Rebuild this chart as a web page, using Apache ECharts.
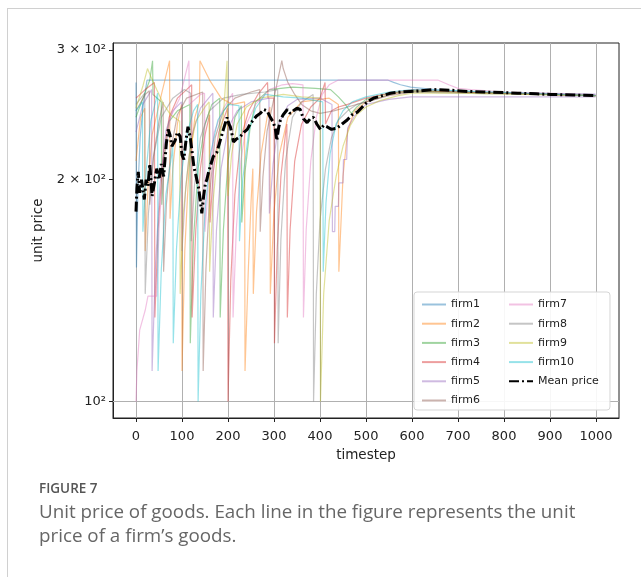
<!DOCTYPE html>
<html><head><meta charset="utf-8">
<script src="https://cdn.jsdelivr.net/npm/echarts@6/dist/echarts.min.js"></script>
<style>
html,body{margin:0;padding:0;background:#fff;}
#frame{position:absolute;left:7px;top:8px;width:640px;height:575px;border-left:1px solid #d0d0d0;border-top:1px solid #d0d0d0;}
#chart{position:absolute;left:0;top:0;width:641px;height:577px;}
</style></head><body>
<div id="frame"></div>
<div id="chart"></div>
<script>
const xTicks=[0,100,200,300,400,500,600,700,800,900,1000];
const yTickValues=[100,200,300];
const yTickLabels=['10²','2 × 10²','3 × 10²'];
const firmNames=['firm1','firm2','firm3','firm4','firm5','firm6','firm7','firm8','firm9','firm10'];
const meanName='Mean price';

const firm1=[[0,271],[1,152],[4,192],[9,228],[16,254],[24,273],[547,273],[560,271],[575,269],[597,267],[650,265],[750,263],[850,262],[999,261]];
const firm2=[[0,212],[10,243],[19,250],[20,160],[26,195],[35,230],[56,262],[73,290],[74,177],[80,207],[90,238],[99,253],[100,110],[106,160],[115,207],[128,243],[138,255],[139,290],[160,273],[185,258],[210,253],[236,255],[237,110],[244,150],[250,186],[254,207],[255,140],[262,181],[272,217],[285,243],[291,251],[292,140],[300,181],[312,217],[330,243],[360,255],[420,258],[440,253],[441,150],[450,202],[460,233],[475,248],[500,255],[550,261],[600,264],[700,263],[999,260]];
const firm3=[[0,243],[10,253],[30,273],[36,290],[37,261],[55,255],[56,185],[62,215],[72,240],[90,248],[117,253],[118,120],[125,166],[135,207],[150,238],[165,253],[182,258],[183,130],[190,171],[200,212],[215,243],[229,252],[230,175],[237,205],[248,235],[260,255],[290,265],[340,267],[390,266],[423,265],[440,259],[455,253],[468,246],[480,251],[500,257],[550,262],[600,264],[700,263],[999,260]];
const firm4=[[0,258],[20,265],[40,271],[41,130],[48,171],[58,212],[72,243],[90,258],[110,265],[121,269],[122,130],[130,171],[140,207],[150,230],[160,245],[161,175],[168,205],[180,232],[199,250],[200,100],[206,146],[215,191],[228,228],[245,248],[265,261],[286,271],[287,258],[300,258],[301,120],[307,161],[315,202],[325,231],[328,238],[329,130],[335,171],[345,212],[360,238],[380,251],[400,258],[411,271],[412,238],[425,248],[440,251],[460,253],[500,258],[550,262],[600,265],[700,263],[999,260]];
const firm5=[[0,232],[15,253],[34,265],[35,110],[42,151],[52,197],[65,233],[80,248],[99,255],[100,160],[108,195],[120,228],[140,250],[167,262],[168,130],[175,171],[185,207],[200,235],[220,248],[250,255],[289,258],[290,180],[298,210],[310,238],[330,252],[350,257],[400,258],[426,253],[427,170],[432,170],[433,184],[440,184],[441,198],[450,198],[451,213],[458,213],[460,235],[475,244],[500,253],[550,257],[597,259],[700,259],[999,259]];
const firm6=[[0,248],[20,261],[29,264],[30,185],[38,215],[50,240],[59,255],[60,150],[66,185],[76,220],[90,245],[110,258],[145,263],[146,110],[152,151],[160,191],[172,228],[190,248],[215,258],[250,263],[269,265],[270,170],[276,202],[285,233],[300,258],[317,290],[320,283],[330,271],[345,261],[360,253],[380,248],[400,246],[430,248],[460,251],[500,255],[550,260],[600,263],[700,263],[999,260]];
const firm7=[[0,100],[2,110],[8,125],[20,133],[26,139],[45,139],[50,171],[60,212],[75,243],[95,258],[115,290],[116,253],[140,261],[149,262],[150,170],[158,200],[170,232],[190,250],[210,262],[211,130],[218,171],[228,212],[240,238],[260,253],[290,265],[318,269],[340,270],[363,269],[364,130],[370,171],[380,212],[392,243],[405,261],[420,269],[440,273],[656,273],[680,269],[700,266],[728,265],[800,263],[999,261]];
const firm8=[[0,253],[19,262],[20,140],[27,180],[38,215],[55,243],[80,258],[105,265],[119,262],[120,165],[127,196],[140,228],[160,248],[190,258],[230,261],[280,263],[308,265],[309,120],[315,166],[325,212],[340,243],[360,255],[385,261],[386,100],[392,140],[400,176],[412,207],[425,228],[440,241],[460,248],[480,253],[520,257],[560,262],[600,263],[700,262],[999,260]];
const firm9=[[0,250],[15,268],[25,283],[30,278],[45,265],[60,253],[75,245],[95,240],[96,140],[103,180],[115,215],[130,240],[150,251],[159,255],[160,150],[167,185],[178,220],[190,245],[198,290],[199,290],[200,190],[208,217],[220,238],[240,251],[270,258],[320,261],[360,259],[400,258],[401,100],[408,140],[420,176],[435,202],[450,222],[466,237],[480,245],[500,251],[530,256],[570,260],[600,262],[700,262],[999,260]];
const firm10=[[0,248],[14,255],[15,170],[22,205],[32,240],[47,262],[48,110],[55,151],[65,191],[78,217],[80,222],[81,120],[88,161],[98,202],[112,232],[125,248],[134,253],[135,100],[141,140],[150,181],[162,217],[178,241],[200,253],[224,252],[225,165],[232,200],[245,232],[260,250],[281,261],[320,259],[360,258],[406,255],[407,150],[413,186],[422,217],[435,238],[450,248],[470,255],[500,259],[550,263],[600,265],[700,264],[999,260]];
const meanPrice=[[0,181],[2,195],[5,205],[8,192],[12,200],[18,188],[22,200],[26,196],[30,210],[35,190],[40,198],[45,207],[50,200],[55,210],[60,202],[66,224],[70,234],[74,230],[78,222],[85,226],[90,232],[96,229],[100,216],[104,213],[109,227],[113,236],[118,228],[122,218],[126,208],[130,203],[136,195],[140,187],[143,180],[147,190],[151,198],[154,200],[158,205],[163,210],[168,215],[176,218],[183,226],[190,234],[198,243],[202,238],[205,236],[209,230],[212,225],[218,227],[227,229],[235,232],[242,234],[248,238],[255,241],[262,244],[270,246],[278,249],[285,248],[292,243],[299,239],[303,234],[306,226],[310,235],[314,241],[320,245],[329,249],[335,246],[342,248],[350,250],[357,249],[364,242],[372,239],[379,242],[386,243],[393,238],[401,234],[408,237],[415,236],[425,234],[437,235],[448,238],[459,241],[470,245],[481,247],[492,251],[503,255],[516,258],[535,260],[553,262],[575,263],[597,263.5],[620,264],[647,265],[684,264.5],[720,263.5],[756,263],[800,262.5],[830,262],[870,261.5],[902,261],[950,260.5],[999,260]];

const firms=[firm1,firm2,firm3,firm4,firm5,firm6,firm7,firm8,firm9,firm10];
const firmColors=['#1f77b4','#ff7f0e','#2ca02c','#d62728','#9467bd','#8c564b','#e377c2','#7f7f7f','#bcbd22','#17becf'];
const FONT='DejaVu Sans';

const series=firms.map((d,i)=>({
  name:firmNames[i],type:'line',data:d,symbol:'none',showSymbol:false,
  lineStyle:{width:1.2,color:firmColors[i],opacity:0.45},
  itemStyle:{color:firmColors[i]},
  z:2,animation:false
}));
series[0].markLine={silent:true,symbol:'none',label:{show:false},z:1,
  lineStyle:{color:'#b0b0b0',width:1,type:'solid',opacity:1},data:[{yAxis:yTickValues[0]}],animation:false};
series.push({name:meanName,type:'line',data:meanPrice,symbol:'none',showSymbol:false,
  lineStyle:{width:3,color:'#000',type:[10,3,2,3],cap:'butt'},itemStyle:{color:'#000'},z:5,animation:false});

const legendBase={orient:'vertical',top:292,itemWidth:24,itemHeight:12,itemGap:8.2,z:20,zlevel:0,
  itemStyle:{color:'rgba(0,0,0,0)',borderWidth:0,opacity:0},
  textStyle:{fontFamily:FONT,fontSize:11,color:'#222'}};

const chart=echarts.init(document.getElementById('chart'),null,{renderer:'canvas'});
chart.setOption({
  animation:false,
  backgroundColor:'transparent',
  title:[
    {text:'FIGURE 7',left:39,top:482,padding:0,textStyle:{fontFamily:'Open Sans',fontSize:13.5,fontWeight:600,color:'#555'}},
    {text:'Unit price of goods. Each line in the figure represents the unit',left:39,top:503,padding:0,textStyle:{fontFamily:'Open Sans',fontSize:18.8,fontWeight:'normal',color:'#666'}},
    {text:'price of a firm’s goods.',left:39,top:527,padding:0,textStyle:{fontFamily:'Open Sans',fontSize:18.8,fontWeight:'normal',color:'#666'}}
  ],
  grid:{left:113,top:43,width:506,height:375,show:true,borderColor:'#222',borderWidth:1,backgroundColor:'transparent',containLabel:false},
  legend:[
    Object.assign({},legendBase,{left:414,z:19,padding:[7,130,4,7],backgroundColor:'rgba(255,255,255,0.9)',
      borderColor:'#d5d5d5',borderWidth:1,borderRadius:3,data:firmNames.slice(0,6)}),
    Object.assign({},legendBase,{left:508,padding:[7,0,4,0],data:firmNames.slice(6).concat([meanName])})
  ],
  xAxis:{type:'value',min:-50,max:1050,
    axisLine:{show:true,onZero:false,lineStyle:{color:'#222'}},
    axisTick:{show:true,customValues:xTicks,length:4,lineStyle:{color:'#222'}},
    axisLabel:{customValues:xTicks,fontFamily:FONT,fontSize:13,color:'#222',margin:12,formatter:function(v){return String(v);}},
    splitLine:{show:true,lineStyle:{color:'#b0b0b0',width:1}},
    name:'timestep',nameLocation:'middle',nameGap:30,nameTextStyle:{fontFamily:FONT,fontSize:13.5,color:'#222'}},
  yAxis:{type:'log',logBase:10,min:95.0,max:306.5,
    axisLine:{show:true,onZero:false,lineStyle:{color:'#222'}},
    axisTick:{show:true,customValues:yTickValues,length:4,lineStyle:{color:'#222'}},
    axisLabel:{customValues:yTickValues,fontFamily:FONT,fontSize:13,color:'#222',margin:7,
      formatter:function(v){let k=0;for(let i=0;i<yTickValues.length;i++){if(Math.abs(yTickValues[i]-v)<Math.abs(yTickValues[k]-v))k=i;}return yTickLabels[k];}},
    splitLine:{show:false},minorTick:{show:false},minorSplitLine:{show:false},
    name:'unit price',nameLocation:'middle',nameGap:66,nameTextStyle:{fontFamily:FONT,fontSize:13.5,color:'#222'}},
  series:series
});
</script></body></html>
